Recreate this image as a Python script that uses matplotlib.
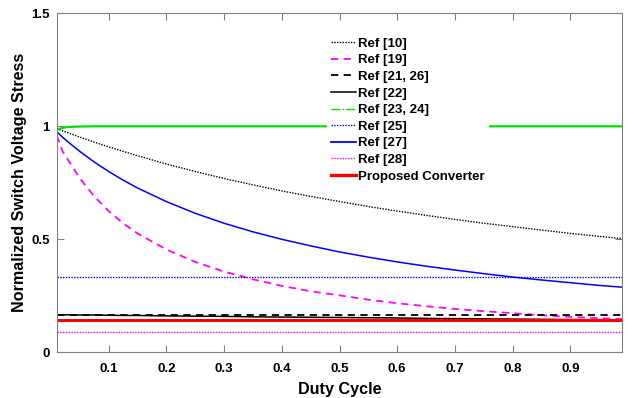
import matplotlib

matplotlib.use("Agg")
import matplotlib.pyplot as plt
from matplotlib.lines import Line2D

plt.rcParams["font.family"] = ["Liberation Sans", "DejaVu Sans"]
plt.rcParams["font.weight"] = "bold"

# duty cycle samples
duty = [0.01, 0.02, 0.03, 0.05, 0.075, 0.1, 0.125, 0.15, 0.2, 0.25, 0.3, 0.35,
        0.4, 0.45, 0.5, 0.55, 0.6, 0.65, 0.7, 0.75, 0.8, 0.85, 0.9, 0.95, 0.99]

# normalized switch voltage stress per topology
ref10 = [0.990, 0.980, 0.971, 0.952, 0.930, 0.909, 0.889, 0.870, 0.833, 0.800, 0.769, 0.741,
         0.714, 0.690, 0.667, 0.645, 0.625, 0.606, 0.588, 0.571, 0.556, 0.541, 0.526, 0.513, 0.503]
ref19 = [0.960, 0.890, 0.850, 0.770, 0.690, 0.625, 0.571, 0.526, 0.455, 0.400, 0.357, 0.323,
         0.294, 0.270, 0.252, 0.233, 0.217, 0.204, 0.192, 0.182, 0.173, 0.164, 0.157, 0.151, 0.147]
ref21_26 = [0.167] * len(duty)
ref22 = [0.166, 0.166, 0.166, 0.165, 0.165, 0.164, 0.163, 0.163, 0.161, 0.160, 0.159, 0.157,
         0.156, 0.155, 0.154, 0.153, 0.152, 0.150, 0.149, 0.148, 0.147, 0.146, 0.145, 0.144, 0.143]
ref23_24 = [0.985, 0.993, 0.997, 0.999, 1.0, 1.0, 1.0, 1.0, 1.0, 1.0, 1.0, 1.0,
            1.0, 1.0, 1.0, 1.0, 1.0, 1.0, 1.0, 1.0, 1.0, 1.0, 1.0, 1.0, 1.0]
ref25 = [0.333] * len(duty)
ref27 = [0.976, 0.952, 0.930, 0.889, 0.842, 0.800, 0.762, 0.727, 0.667, 0.615, 0.571, 0.533,
         0.500, 0.471, 0.444, 0.421, 0.400, 0.381, 0.364, 0.348, 0.333, 0.320, 0.308, 0.296, 0.288]
ref28 = [0.091] * len(duty)
proposed = [0.143] * len(duty)

labels = ["Ref [10]", "Ref [19]", "Ref [21, 26]", "Ref [22]", "Ref [23, 24]",
          "Ref [25]", "Ref [27]", "Ref [28]", "Proposed Converter"]

GREEN = "#00e000"
MAGENTA = "#ff00ff"
BLUE = "#0000ff"
RED = "#ff0000"
DOT = (0, (1, 1))
DASH = (0, (4, 3))

fig = plt.figure(figsize=(6.28, 3.98), dpi=100)
ax = fig.add_axes([0.0903, 0.1148, 0.9007, 0.8518])

ax.plot(duty, ref10, color="black", lw=1.0, ls=DOT)
ax.plot(duty, ref19, color=MAGENTA, lw=1.3, ls=DASH)
ax.plot(duty, ref21_26, color="black", lw=1.3, ls=DASH)
ax.plot(duty, ref22, color="black", lw=1.1)
ax.plot(duty, ref23_24, color=GREEN, lw=1.6)
ax.plot(duty, ref25, color=BLUE, lw=1.0, ls=DOT)
ax.plot(duty, ref27, color=BLUE, lw=1.1)
ax.plot(duty, ref28, color=MAGENTA, lw=1.0, ls=DOT)
ax.plot(duty, proposed, color=RED, lw=2.2)

# legend keys: the green trace is keyed as dash-dot
handles = [
    Line2D([], [], color="black", lw=1.0, ls=DOT),
    Line2D([], [], color=MAGENTA, lw=1.3, ls=DASH),
    Line2D([], [], color="black", lw=1.3, ls=DASH),
    Line2D([], [], color="black", lw=1.1),
    Line2D([], [], color=GREEN, lw=1.0, ls="-."),
    Line2D([], [], color=BLUE, lw=1.0, ls=DOT),
    Line2D([], [], color=BLUE, lw=1.3),
    Line2D([], [], color=MAGENTA, lw=1.0, ls=DOT),
    Line2D([], [], color=RED, lw=2.4),
]
ax.legend(handles, labels, loc="upper left", bbox_to_anchor=(0.478, 0.94),
          frameon=True, fancybox=False, framealpha=1.0, edgecolor="none",
          facecolor="white", prop={"size": 9.5, "weight": "bold"},
          handlelength=1.9, handletextpad=0.15, labelspacing=0.33,
          borderpad=0.3, borderaxespad=0.0)

ax.set_xlim(0.01, 0.99)
ax.set_ylim(0, 1.5)
ax.set_xticks([0.1, 0.2, 0.3, 0.4, 0.5, 0.6, 0.7, 0.8, 0.9])
ax.set_yticks([0, 0.5, 1, 1.5])
ax.set_yticklabels(["0", "0.5", "1", "1.5"])
ax.tick_params(direction="in", length=5, width=0.8, color="#808080",
               top=True, right=True, labelsize=9.5)
ax.tick_params(axis="x", pad=8)
ax.tick_params(axis="y", pad=5)
for lbl in ax.get_xticklabels() + ax.get_yticklabels():
    lbl.set_fontweight("bold")
for sp in ax.spines.values():
    sp.set_color("#808080")
    sp.set_linewidth(0.8)

ax.set_xlabel("Duty Cycle", fontsize=11.6, fontweight="bold", labelpad=5)
ax.set_ylabel("Normalized Switch Voltage Stress", fontsize=11.6, fontweight="bold", labelpad=3)

fig.savefig("out.png", dpi=100)
